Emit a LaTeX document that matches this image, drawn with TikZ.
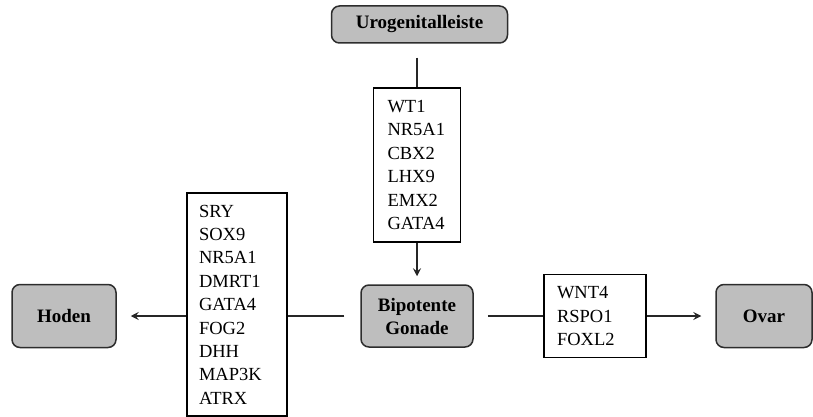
\documentclass[tikz,border=0pt]{standalone}
\usepackage{fontspec}
\setmainfont{Liberation Serif}
\usepackage{tikz}
\usetikzlibrary {arrows.meta, positioning}
\definecolor{boxgray}{RGB}{190,190,190}
\definecolor{edgegray}{RGB}{45,45,45}

\begin{document}
\begin{tikzpicture}[
        on grid,>={Stealth[length=8pt,width=8pt,inset=3pt]},
        stage/.style={draw=edgegray, line width=1.5pt, fill=boxgray, rounded corners=8pt,
          align=center, font=\rmfamily\fontsize{19}{23}\selectfont\bfseries, inner sep=0pt},
        genes/.style={draw=black, line width=1.5pt, align=left, inner ysep=0pt,
          font=\rmfamily\fontsize{18.5}{23.4}\selectfont},
        link/.style={line width=1.3pt, draw=black!85}
        ]
        \useasboundingbox (0,0) rectangle (813pt,-417pt);

        \node[stage, minimum width=112pt, minimum height=62pt] (gonade) at (417pt,-316pt) {Bipotente\\Gonade};
        \node[genes, inner xsep=14pt, text width=59pt, minimum height=154pt] (wt) [above=151pt of gonade] {WT1\\NR5A1\\CBX2\\LHX9\\EMX2\\GATA4};
        \node[stage, minimum width=176pt, minimum height=37pt] (ugl) [above=140.5pt of wt, xshift=2.5pt] {Urogenitalleiste};
        \node[genes, inner xsep=12pt, text width=76pt, minimum height=223pt] (sry) [left=180pt of gonade, yshift=11.5pt] {SRY\\SOX9\\NR5A1\\DMRT1\\GATA4\\FOG2\\DHH\\MAP3K\\ATRX};
        \node[stage, minimum width=104pt, minimum height=63pt] (hoden) [left=353pt of gonade] {Hoden};
        \node[genes, inner xsep=13pt, text width=76pt, minimum height=83pt] (wnt) [right=178pt of gonade] {WNT4\\RSPO1\\FOXL2};
        \node[stage, minimum width=96pt, minimum height=63pt] (ovar) [right=169pt of wnt] {Ovar};

        \draw[link, shorten <=14pt] (ugl.south -| wt.north) -- (wt.north);
        \draw[link, ->, shorten >=8pt] (wt.south) -- (wt.south |- gonade.north);
        \draw[link, shorten <=16pt] (gonade.west) -- (sry.east |- gonade.west);
        \draw[link, ->, shorten >=14pt] (sry.west |- hoden.east) -- (hoden.east);
        \draw[link, shorten <=14pt] (gonade.east) -- (wnt.west);
        \draw[link, ->, shorten >=14pt] (wnt.east) -- (ovar.west);
      \end{tikzpicture}
\end{document}
